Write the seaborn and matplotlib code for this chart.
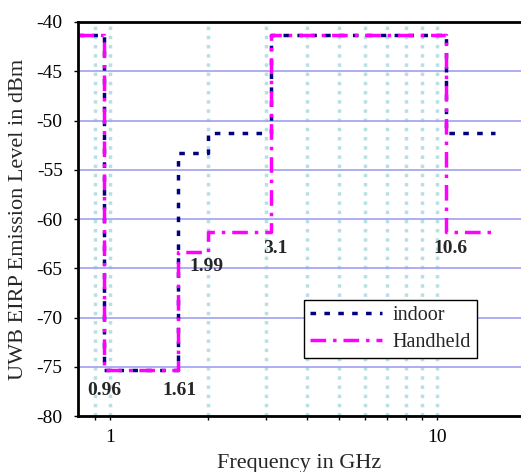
import numpy as np
import pandas as pd
import matplotlib
matplotlib.use('Agg')
import matplotlib.pyplot as plt
import seaborn as sns
from matplotlib.ticker import NullFormatter, FixedLocator, FixedFormatter

# step breakpoints in GHz and emission levels (dBm), last value repeated for steps-post
freq = [0.8, 0.96, 1.61, 1.99, 3.1, 10.6, 15.0]
indoor = [-41.3, -75.3, -53.3, -51.3, -41.3, -51.3, -51.3]
handheld = [-41.3, -75.3, -63.3, -61.3, -41.3, -61.3, -61.3]

# annotation labels and where they sit
ann_text = ['0.96', '1.61', '1.99', '3.1', '10.6']
ann_x = [0.96, 1.63, 1.98, 3.2, 11.0]
ann_y = [-77.4, -77.4, -64.8, -63.0, -63.0]

sns.set_style('white')
plt.rcParams['font.family'] = ['Liberation Serif', 'DejaVu Serif']
plt.rcParams['axes.unicode_minus'] = False

fig = plt.figure(figsize=(5.21, 4.72), dpi=100)
ax = fig.add_axes([0.1497, 0.1186, 0.8503, 0.8348])

df = pd.DataFrame({'freq': freq, 'indoor': indoor, 'handheld': handheld})

sns.lineplot(data=df, x='freq', y='indoor', ax=ax, color='#000080', lw=2.5,
             drawstyle='steps-post', linestyle=(0, (1.6, 2.4)), label='indoor',
             sort=False)
sns.lineplot(data=df, x='freq', y='handheld', ax=ax, color='#ff00ff', lw=2.5,
             drawstyle='steps-post', linestyle=(0, (4.5, 2, 1, 2)), label='Handheld',
             sort=False)

ax.set_xscale('log')
ax.set_xlim(0.8, 18)
ax.set_ylim(-80, -40)
ax.set_yticks(np.arange(-80, -39, 5))
ax.xaxis.set_major_locator(FixedLocator([1, 10]))
ax.xaxis.set_major_formatter(FixedFormatter(['1', '10']))
ax.xaxis.set_minor_locator(FixedLocator([0.9, 2, 3, 4, 5, 6, 7, 8, 9]))
ax.xaxis.set_minor_formatter(NullFormatter())

ax.grid(False)
ax.grid(True, axis='x', which='both', color='#b8e0e4', linestyle=':', lw=2.5, zorder=0)
ax.grid(True, axis='y', which='major', color='#a0a0f0', linestyle='-', lw=1.2, zorder=0)
ax.set_axisbelow(True)

for s in ['left', 'top', 'bottom']:
    ax.spines[s].set_color('black')
    ax.spines[s].set_linewidth(2)
ax.spines['right'].set_visible(False)

ax.tick_params(axis='both', which='both', direction='out', length=3, width=1,
               colors='black', labelsize=14, left=True, bottom=True)
ax.tick_params(axis='x', pad=6)
ax.tick_params(axis='y', pad=8)

ax.set_xlabel('Frequency in GHz', fontsize=16, labelpad=6)
ax.set_ylabel('UWB EIRP Emission Level in dBm', fontsize=16, labelpad=6)

for t, x, y in zip(ann_text, ann_x, ann_y):
    ax.text(x, y, t, ha='center', va='center', fontsize=14, fontweight='bold')

leg = ax.legend(loc='upper left', bbox_to_anchor=(0.51, 0.295), fontsize=14.5,
                frameon=True, fancybox=False, framealpha=1, edgecolor='black',
                handlelength=3.6, handletextpad=0.5, borderpad=0.3,
                labelspacing=0.4, borderaxespad=0)
leg.get_frame().set_linewidth(1)

fig.savefig('out.png', dpi=100)
